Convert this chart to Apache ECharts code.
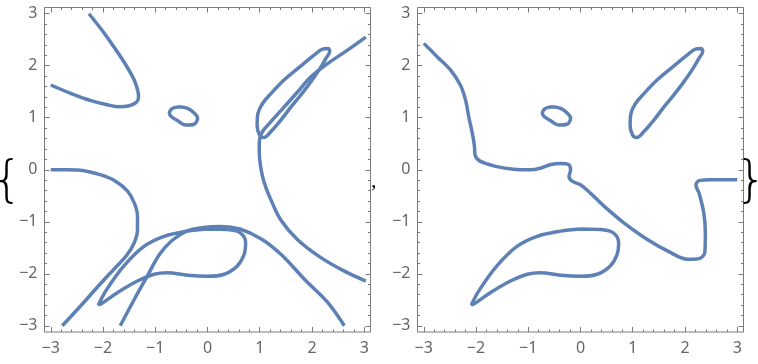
<!DOCTYPE html>
<html><head><meta charset="utf-8">
<script src="https://cdn.jsdelivr.net/npm/echarts@6/dist/echarts.min.js"></script>
<style>html,body{margin:0;padding:0;background:#fff}#c{width:758px;height:364px}</style>
</head><body><div id="c"></div>
<script>
// ---- tick labels ----
const tickValues = [-3, -2, -1, 0, 1, 2, 3];
const tickLabels = ['\u22123', '\u22122', '\u22121', '0', '1', '2', '3'];

// ---- curves shared by both panels ----
const ellipse = [[-0.54,1.21],[-0.38,1.18],[-0.25,1.085],[-0.19,0.99],[-0.26,0.875],[-0.42,0.86],[-0.575,0.945],[-0.69,1.02],[-0.73,1.085],[-0.67,1.18],[-0.54,1.21]];
const loopUpperRight = [[1.59,1.2],[1.78,1.43],[1.97,1.68],[2.13,1.91],[2.26,2.13],[2.34,2.28],[2.31,2.33],[2.20,2.32],[2.07,2.23],[1.91,2.10],[1.72,1.94],[1.46,1.72],[1.21,1.46],[1.05,1.27],[0.965,1.08],[0.95,0.85],[1.0,0.66],[1.08,0.62],[1.21,0.73],[1.40,0.95],[1.59,1.2]];
const lobe = [[0.0,-1.14],[0.38,-1.15],[0.62,-1.21],[0.73,-1.40],[0.70,-1.63],[0.57,-1.85],[0.32,-2.01],[0.0,-2.05],[-0.38,-2.03],[-0.77,-1.98],[-1.02,-2.01],[-1.34,-2.14],[-1.72,-2.36],[-2.02,-2.57],[-2.09,-2.60],[-1.94,-2.32],[-1.60,-1.85],[-1.21,-1.47],[-0.83,-1.28],[-0.38,-1.18],[0.0,-1.14]];

// ---- left panel only ----
const curveTopLeft = [[-2.27,3.0],[-2.04,2.71],[-1.79,2.36],[-1.56,2.01],[-1.40,1.72],[-1.33,1.50],[-1.32,1.39],[-1.37,1.29],[-1.50,1.23],[-1.69,1.21],[-1.92,1.25],[-2.23,1.33],[-2.62,1.47],[-3.0,1.63]];
const curveLeftMid = [[-3.0,0.0],[-2.68,0.0],[-2.36,-0.02],[-2.04,-0.10],[-1.76,-0.22],[-1.53,-0.41],[-1.40,-0.64],[-1.34,-0.89],[-1.34,-1.15],[-1.40,-1.40],[-1.55,-1.65],[-1.79,-1.91],[-2.11,-2.26],[-2.43,-2.62],[-2.78,-3.0]];
const curveRight = [[3.03,2.55],[2.68,2.30],[2.29,2.035],[1.97,1.78],[1.72,1.49],[1.46,1.2],[1.21,0.92],[1.05,0.73],[1.0,0.6],[0.99,0.45],[1.0,0.19],[1.05,-0.12],[1.12,-0.35],[1.21,-0.57],[1.40,-0.96],[1.72,-1.34],[2.17,-1.69],[2.62,-1.95],[3.03,-2.14]];
const curveArch = [[-1.67,-3.0],[-1.40,-2.49],[-1.15,-2.04],[-0.92,-1.63],[-0.68,-1.36],[-0.40,-1.18],[-0.08,-1.11],[0.26,-1.09],[0.62,-1.14],[1.03,-1.33],[1.41,-1.63],[1.86,-2.11],[2.30,-2.55],[2.62,-3.0]];

// ---- right panel only ----
const curveWinding = [[-3.0,2.43],[-2.74,2.17],[-2.49,1.92],[-2.30,1.63],[-2.20,1.34],[-2.14,1.02],[-2.07,0.70],[-2.03,0.45],[-2.02,0.29],[-1.93,0.17],[-1.60,0.06],[-1.28,0.01],[-0.96,0.0],[-0.77,0.03],[-0.57,0.10],[-0.38,0.12],[-0.23,0.10],[-0.19,0.0],[-0.22,-0.13],[-0.16,-0.22],[0.0,-0.29],[0.19,-0.45],[0.45,-0.70],[0.83,-1.02],[1.28,-1.34],[1.72,-1.59],[2.04,-1.72],[2.26,-1.71],[2.38,-1.59],[2.39,-1.21],[2.36,-0.83],[2.27,-0.45],[2.21,-0.30],[2.27,-0.21],[2.49,-0.19],[2.74,-0.19],[3.0,-0.19]];

const panels = [
  {left: 44.5, curves: [curveTopLeft, ellipse, loopUpperRight, curveLeftMid, curveRight, curveArch, lobe]},
  {left: 417.5, curves: [curveWinding, ellipse, loopUpperRight, lobe]}
];

const LO = -3.12, HI = 3.12;
const frameColor = '#7a7a7a';
const labelColor = '#666';
const minorValues = [];
for (let i = -15; i <= 15; i++) { if (i % 5 !== 0) minorValues.push(+(i * 0.2).toFixed(1)); }
const fmt = v => { const k = tickValues.indexOf(Math.round(v)); return k >= 0 ? tickLabels[k] : ''; };

const grids = [], xAxes = [], yAxes = [], series = [];
panels.forEach((p, gi) => {
  grids.push({left: p.left, top: 7.5, width: 326, height: 324.5, show: true, borderColor: frameColor, borderWidth: 1, backgroundColor: 'transparent'});
  const mainX = xAxes.length, mainY = yAxes.length;
  const mk = (pos, values, len, labels) => ({
    type: 'value', gridIndex: gi, position: pos, min: LO, max: HI,
    axisLine: {show: false, onZero: false}, splitLine: {show: false},
    axisTick: {show: true, inside: true, length: len, customValues: values, lineStyle: {color: frameColor, width: 1}},
    axisLabel: labels ? {show: true, customValues: tickValues, formatter: fmt, color: labelColor, fontSize: 16, fontFamily: 'Noto Sans', margin: labels} : {show: false}
  });
  xAxes.push(mk('bottom', tickValues, 5, 8), mk('bottom', minorValues, 2.5), mk('top', tickValues, 5), mk('top', minorValues, 2.5));
  yAxes.push(mk('left', tickValues, 5, 7), mk('left', minorValues, 2.5), mk('right', tickValues, 5), mk('right', minorValues, 2.5));
  p.curves.forEach(c => series.push({
    type: 'line', xAxisIndex: mainX, yAxisIndex: mainY, data: c,
    showSymbol: false, smooth: 0.35, silent: true,
    lineStyle: {color: '#5E81B5', width: 3.5}
  }));
});

const chart = echarts.init(document.getElementById('c'), null, {renderer: 'canvas'});
chart.setOption({
  animation: false,
  grid: grids, xAxis: xAxes, yAxis: yAxes, series: series,
  graphic: [
    {type: 'text', x: 7, y: 183, style: {text: '{', font: '200 50px "DejaVu Sans"', fill: '#000', align: 'center', verticalAlign: 'middle'}},
    {type: 'text', left: 371, top: 170, style: {text: ',', font: '22px "Liberation Serif"', fill: '#000'}},
    {type: 'text', x: 751, y: 183, style: {text: '}', font: '200 50px "DejaVu Sans"', fill: '#000', align: 'center', verticalAlign: 'middle'}}
  ]
});
</script>
</body></html>
